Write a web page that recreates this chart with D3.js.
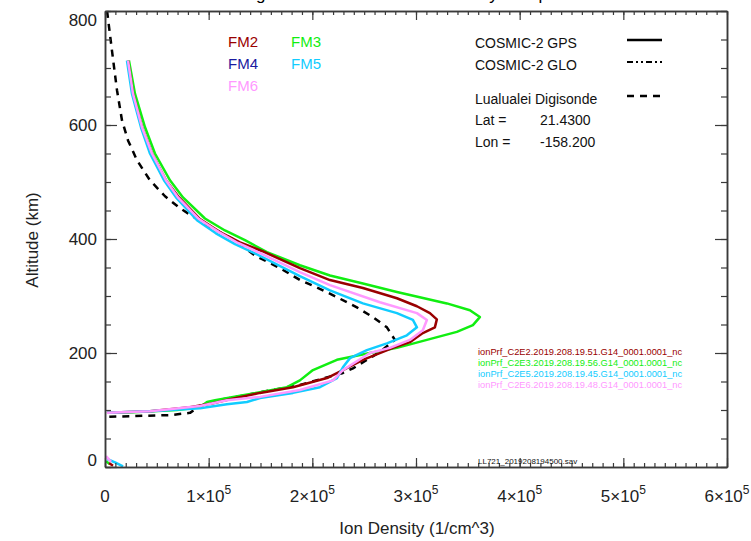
<!DOCTYPE html>
<html>
<head>
<meta charset="utf-8">
<script src="https://cdn.jsdelivr.net/npm/d3@7"></script>
<style>
  body { margin: 0; background: #fff; }
  text { font-family: "Liberation Sans", Arial, sans-serif; }
</style>
</head>
<body>
<svg id="chart" width="751" height="541"></svg>
<script>
// Ion density profiles (altitude in km, density in 1/cm^3)
const fm2Alt  = [713, 655, 596, 550, 503, 473, 435, 412, 394, 379, 349, 328, 314, 296, 282, 270, 259, 245, 235, 219, 209, 188, 170, 156, 140, 130, 119, 112, 105, 98, 95];
const fm2Dens = [22200, 27000, 35700, 45300, 58800, 71400, 91600, 110900, 130200, 151400, 188000, 217000, 248800, 281600, 300900, 313400, 320100, 318200, 306600, 294100, 277700, 248800, 229500, 214100, 181300, 149500, 120500, 104100, 82000, 43400, 1900];

const fm3Alt  = [713, 655, 596, 550, 503, 473, 436, 415, 398, 377, 354, 336, 322, 307, 287, 275, 263, 249, 237, 223, 209, 200, 188, 170, 152, 140, 131, 126, 117, 114, 105, 100, 96, 95];
const fm3Dens = [23100, 28900, 38600, 48200, 62700, 75200, 96400, 115700, 135000, 156200, 188000, 217000, 248800, 281600, 329800, 352000, 361600, 354900, 339400, 310500, 281600, 255500, 223700, 200600, 188000, 175500, 149500, 133100, 106100, 98400, 91600, 69400, 27000, 1900];

const fm5Alt  = [713, 655, 596, 550, 503, 473, 433, 410, 391, 373, 335, 310, 287, 270, 258, 245, 231, 217, 205, 191, 175, 156, 140, 130, 121, 114, 110, 103, 98, 95];
const fm5Dens = [21200, 26000, 34700, 43400, 56900, 68500, 88700, 107000, 125400, 146600, 188000, 217000, 248800, 281600, 297000, 300900, 291200, 271900, 252600, 236300, 229500, 223700, 207300, 181300, 149500, 136900, 117600, 91600, 43400, 1900];

const fm6Alt  = [713, 655, 596, 550, 503, 473, 435, 412, 393, 377, 342, 319, 289, 270, 258, 240, 223, 209, 200, 170, 152, 135, 123, 117, 107, 98, 95];
const fm6Dens = [22200, 27000, 35700, 45300, 58800, 70400, 90600, 109900, 128300, 147500, 188000, 217000, 265200, 300900, 310500, 306600, 294100, 274800, 255500, 229500, 219900, 188000, 149500, 117600, 91600, 43400, 1900];

// short low-altitude fragments near the origin
const fm2LowAlt = [7, 2],      fm2LowDens = [3900, 7700];
const fm3LowAlt = [10, 5],     fm3LowDens = [1000, 4800];
const fm5LowAlt = [14, 8, 1],  fm5LowDens = [2000, 9600, 17400];
const fm6LowAlt = [19, 9],     fm6LowDens = [1000, 5800];

// Lualualei digisonde profile
const digiAlt  = [800, 730, 661, 608, 573, 538, 503, 475, 454, 426, 398, 371, 349, 328, 315, 298, 280, 263, 245, 223, 202, 188, 173, 165, 144, 131, 124, 119, 107, 95, 91, 88];
const digiDens = [2000, 6750, 11570, 16400, 22200, 30900, 43400, 57900, 72300, 96400, 125360, 144650, 168750, 188040, 204440, 223720, 243010, 258440, 271940, 279650, 265190, 252650, 239150, 229510, 188040, 149470, 130180, 113790, 91610, 81970, 62680, 0];

const xTicks = [0, 1e5, 2e5, 3e5, 4e5, 5e5, 6e5];
const yTicks = [0, 200, 400, 600, 800];
const fileLabels = [
  "ionPrf_C2E2.2019.208.19.51.G14_0001.0001_nc",
  "ionPrf_C2E3.2019.208.19.56.G14_0001.0001_nc",
  "ionPrf_C2E5.2019.208.19.45.G14_0001.0001_nc",
  "ionPrf_C2E6.2019.208.19.48.G14_0001.0001_nc"
];

const COLORS = { fm2: "#990000", fm3: "#11ee11", fm4: "#1a1aa0", fm5: "#11ccff", fm6: "#ff99ff" };
const AXIS_COLOR = "#3a3a3a";

const svg = d3.select("#chart");
const x = d3.scaleLinear().domain([0, 6e5]).range([105, 727]);
const y = d3.scaleLinear().domain([0, 800]).range([467, 11]);

const zip = (dens, alt) => dens.map((d, i) => [d, alt[i]]);
const line = d3.line().x(d => x(d[0])).y(d => y(d[1]));

// title (mostly above the visible area, as in the original)
svg.append("text")
  .attr("x", 417).attr("y", 0)
  .attr("text-anchor", "middle")
  .attr("font-size", 17)
  .text("Digisonde and COSMIC-2 Density Comparison");

// profiles
const plot = svg.append("g").attr("fill", "none").attr("stroke-linejoin", "round");

plot.append("path")
  .attr("d", line(zip(digiDens, digiAlt)))
  .attr("stroke", "#000").attr("stroke-width", 2.5)
  .attr("stroke-dasharray", "7,6");

const series = [
  [fm3Dens, fm3Alt, COLORS.fm3],
  [fm2Dens, fm2Alt, COLORS.fm2],
  [fm5Dens, fm5Alt, COLORS.fm5],
  [fm6Dens, fm6Alt, COLORS.fm6],
  [fm3LowDens, fm3LowAlt, COLORS.fm3],
  [fm2LowDens, fm2LowAlt, COLORS.fm2],
  [fm5LowDens, fm5LowAlt, COLORS.fm5],
  [fm6LowDens, fm6LowAlt, COLORS.fm6]
];
series.forEach(([dens, alt, col]) => {
  plot.append("path")
    .attr("d", line(zip(dens, alt)))
    .attr("stroke", col).attr("stroke-width", 2.5);
});

// axes: box with inward ticks on all sides
function styleAxis(g) {
  g.selectAll("path.domain").attr("stroke", AXIS_COLOR).attr("stroke-width", 1.5);
  g.selectAll(".tick line").attr("stroke", AXIS_COLOR).attr("stroke-width", 1.2);
  g.selectAll(".tick text").remove();
}
const xMinor = d3.range(0, 6e5 + 1, 1e4);
const yMinor = d3.range(0, 801, 50);

svg.append("g").attr("transform", `translate(0,${y(0)})`)
  .call(d3.axisBottom(x).tickValues(xMinor).tickSize(-4).tickSizeOuter(0)).call(styleAxis);
svg.append("g").attr("transform", `translate(0,${y(0)})`)
  .call(d3.axisBottom(x).tickValues(xTicks).tickSize(-9).tickSizeOuter(0)).call(styleAxis);
svg.append("g").attr("transform", `translate(0,${y(800)})`)
  .call(d3.axisTop(x).tickValues(xMinor).tickSize(-4).tickSizeOuter(0)).call(styleAxis);
svg.append("g").attr("transform", `translate(0,${y(800)})`)
  .call(d3.axisTop(x).tickValues(xTicks).tickSize(-9).tickSizeOuter(0)).call(styleAxis);
svg.append("g").attr("transform", `translate(${x(0)},0)`)
  .call(d3.axisLeft(y).tickValues(yMinor).tickSize(-6).tickSizeOuter(0)).call(styleAxis);
svg.append("g").attr("transform", `translate(${x(0)},0)`)
  .call(d3.axisLeft(y).tickValues(yTicks).tickSize(-12).tickSizeOuter(0)).call(styleAxis);
svg.append("g").attr("transform", `translate(${x(6e5)},0)`)
  .call(d3.axisRight(y).tickValues(yMinor).tickSize(-6).tickSizeOuter(0)).call(styleAxis);
svg.append("g").attr("transform", `translate(${x(6e5)},0)`)
  .call(d3.axisRight(y).tickValues(yTicks).tickSize(-12).tickSizeOuter(0)).call(styleAxis);

// x tick labels with superscript exponent
const xl = svg.append("g").attr("font-size", 17).attr("fill", "#222");
xTicks.forEach(v => {
  const t = xl.append("text").attr("x", x(v)).attr("y", 502).attr("text-anchor", "middle");
  if (v === 0) { t.text("0"); return; }
  t.append("tspan").text(`${v / 1e5}×10`);
  t.append("tspan").attr("dy", -8).attr("font-size", 12).text("5");
});

// y tick labels (end labels sit inside the box like the original)
const yl = svg.append("g").attr("font-size", 17).attr("fill", "#222").attr("text-anchor", "end");
yTicks.forEach(v => {
  let off = 6;
  if (v === 0) off = -1;
  if (v === 800) off = 15;
  yl.append("text").attr("x", 97).attr("y", y(v) + off).text(v);
});

// axis titles
svg.append("text")
  .attr("x", 417).attr("y", 534)
  .attr("text-anchor", "middle").attr("font-size", 17).attr("fill", "#222")
  .text("Ion Density (1/cm^3)");
svg.append("text")
  .attr("transform", "translate(38,240) rotate(-90)")
  .attr("text-anchor", "middle").attr("font-size", 17).attr("fill", "#222")
  .text("Altitude (km)");

// FM legend
const fmLegend = [
  ["FM2", COLORS.fm2, 228, 47], ["FM3", COLORS.fm3, 291, 47],
  ["FM4", COLORS.fm4, 228, 69], ["FM5", COLORS.fm5, 291, 69],
  ["FM6", COLORS.fm6, 228, 91]
];
svg.append("g").attr("font-size", 15)
  .selectAll("text").data(fmLegend).join("text")
  .attr("x", d => d[2]).attr("y", d => d[3])
  .attr("fill", d => d[1]).text(d => d[0]);

// source legend
const lg = svg.append("g").attr("font-size", 14).attr("fill", "#111");
lg.append("text").attr("x", 475).attr("y", 48).text("COSMIC-2 GPS");
lg.append("text").attr("x", 475).attr("y", 70).text("COSMIC-2 GLO");
lg.append("text").attr("x", 475).attr("y", 104).text("Lualualei Digisonde");
lg.append("text").attr("x", 475).attr("y", 125).text("Lat =");
lg.append("text").attr("x", 540).attr("y", 125).text("21.4300");
lg.append("text").attr("x", 475).attr("y", 147).text("Lon =");
lg.append("text").attr("x", 540).attr("y", 147).text("-158.200");

lg.append("line").attr("x1", 627).attr("x2", 662).attr("y1", 40).attr("y2", 40)
  .attr("stroke", "#000").attr("stroke-width", 2.5);
lg.append("line").attr("x1", 627).attr("x2", 662).attr("y1", 62).attr("y2", 62)
  .attr("stroke", "#000").attr("stroke-width", 2).attr("stroke-dasharray", "6,3,2,3,2,3");
lg.append("line").attr("x1", 627).attr("x2", 662).attr("y1", 96).attr("y2", 96)
  .attr("stroke", "#000").attr("stroke-width", 2.5).attr("stroke-dasharray", "7,6");

// profile file names
const fileColors = [COLORS.fm2, COLORS.fm3, COLORS.fm5, COLORS.fm6];
svg.append("g").attr("font-size", 9.3)
  .selectAll("text").data(fileLabels).join("text")
  .attr("x", 478).attr("y", (d, i) => 355 + i * 11)
  .attr("fill", (d, i) => fileColors[i]).text(d => d);

svg.append("text").attr("x", 478).attr("y", 464)
  .attr("font-size", 8).attr("fill", "#111")
  .text("LL721_2019208194500.sav");
</script>
</body>
</html>
